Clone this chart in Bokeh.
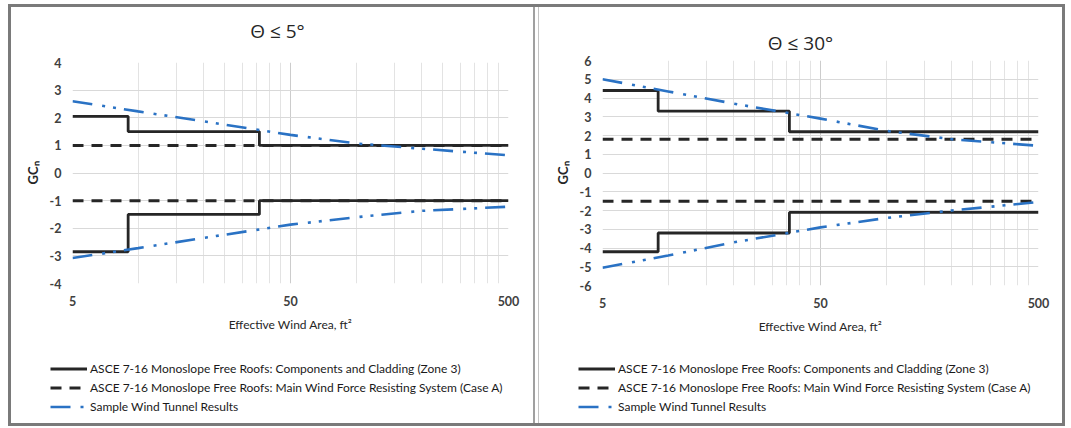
from bokeh.plotting import figure
from bokeh.models import (Range1d, FixedTicker, BasicTickFormatter, Legend,
                          LegendItem, Row, Column, Label)
from bokeh.embed import file_html
from bokeh.resources import INLINE

# ---------------- data ----------------
step_area = [5, 9, 36, 500]          # ft2 breakpoints of C&C steps
line_area = [5, 500]                 # extent of MWFRS lines
wt_area = [5, 10, 20, 50, 100, 200, 500]

x_major = [5, 50, 500]
x_minor = [10, 15, 20, 25, 30, 35, 40, 45, 100, 150, 200, 250, 300, 350, 400, 450]

left_title = "Θ ≤ 5°"
left_cc_pos = [2.05, 1.5, 1.0]
left_cc_neg = [-2.85, -1.5, -1.0]
left_mwfrs = [1.0, -1.0]
left_wt_pos = [2.6, 2.23, 1.87, 1.38, 1.07, 0.88, 0.64]
left_wt_neg = [-3.08, -2.72, -2.35, -1.87, -1.6, -1.37, -1.22]
left_yticks = [-4, -3, -2, -1, 0, 1, 2, 3, 4]

right_title = "Θ ≤ 30°"
right_cc_pos = [4.4, 3.3, 2.2]
right_cc_neg = [-4.2, -3.2, -2.1]
right_mwfrs = [1.8, -1.5]
right_wt_pos = [5.0, 4.35, 3.7, 2.9, 2.25, 1.8, 1.45]
right_wt_neg = [-5.05, -4.4, -3.7, -2.9, -2.4, -2.0, -1.55]
right_yticks = [-6, -5, -4, -3, -2, -1, 0, 1, 2, 3, 4, 5, 6]

legend_labels = [
    "ASCE 7-16 Monoslope Free Roofs: Components and Cladding (Zone 3)",
    "ASCE 7-16 Monoslope Free Roofs: Main Wind Force Resisting System (Case A)",
    "Sample Wind Tunnel Results",
]
x_label = "Effective Wind Area, ft²"
y_label = "GCₙ"

FONT = "Lato"
BLACK = "#262626"
BLUE = "#2a72c4"
CC_STYLE = dict(line_color=BLACK, line_width=2.8)
MW_STYLE = dict(line_color=BLACK, line_width=3, line_dash="11 8")
WT_STYLE = dict(line_color=BLUE, line_width=2.6, line_dash="20 10 3 8 3 8")
TOTAL_H = 416
LEGEND_H = 75
NAN2 = [float("nan"), float("nan")]   # legend-only proxies (draw nothing)


def blank_fig(width, height):
    f = figure(width=width, height=height, x_range=Range1d(0, width),
               y_range=Range1d(0, height), min_border=0,
               x_axis_location=None, y_axis_location=None,
               output_backend="svg", toolbar_location=None, frame_align=False)
    f.grid.visible = False
    f.outline_line_color = None
    f.background_fill_color = "white"
    f.border_fill_color = "white"
    return f


def make_panel(title, yticks, cc_pos, cc_neg, mwfrs, wt_pos, wt_neg,
               width, b_left, title_h, title_x, title_y, b_top, frame_h, leg_x):
    # ---- title strip ----
    pt = blank_fig(width, title_h)
    pt.add_layout(Label(x=title_x, y=title_y, text=title, text_align="center",
                        text_baseline="middle", text_font="Open Sans",
                        text_font_size="19px", text_color=BLACK))

    # ---- main chart ----
    main_h = TOTAL_H - title_h - LEGEND_H
    p = figure(width=width, height=main_h, x_axis_type="log",
               x_range=Range1d(5, 500), y_range=Range1d(yticks[0], yticks[-1]),
               min_border_left=b_left, min_border_right=width - b_left - 436,
               min_border_top=b_top, min_border_bottom=main_h - b_top - frame_h,
               output_backend="svg", toolbar_location=None, frame_align=False)
    p.outline_line_color = None
    p.background_fill_color = "white"
    p.border_fill_color = "white"

    p.xaxis.ticker = FixedTicker(ticks=x_major, minor_ticks=x_minor)
    p.xaxis.formatter = BasicTickFormatter()
    p.yaxis.ticker = FixedTicker(ticks=yticks)
    p.yaxis.major_label_overrides = {t: str(t) for t in yticks}
    for ax in (p.xaxis, p.yaxis):
        ax.axis_line_color = None
        ax.major_tick_line_color = None
        ax.minor_tick_line_color = None
        ax.major_label_text_font = FONT
        ax.major_label_text_font_size = "12.5px"
        ax.major_label_text_font_style = "bold"
        ax.major_label_text_color = "#404040"
    p.yaxis.major_label_standoff = 5
    p.xaxis.major_label_standoff = 6
    p.xaxis.axis_label = x_label
    p.xaxis.axis_label_text_font = FONT
    p.xaxis.axis_label_text_font_size = "12px"
    p.xaxis.axis_label_text_font_style = "normal"
    p.xaxis.axis_label_text_color = BLACK
    p.xaxis.axis_label_standoff = 8
    p.yaxis.axis_label = y_label
    p.yaxis.axis_label_text_font = FONT
    p.yaxis.axis_label_text_font_size = "13px"
    p.yaxis.axis_label_text_font_style = "bold"
    p.yaxis.axis_label_text_color = BLACK
    p.yaxis.axis_label_standoff = 6

    p.xgrid.grid_line_color = "#cccccc"
    p.xgrid.minor_grid_line_color = "#e3e3e3"
    p.ygrid.grid_line_color = "#d9d9d9"

    p.step(step_area, cc_pos + [cc_pos[-1]], mode="after", **CC_STYLE)
    p.step(step_area, cc_neg + [cc_neg[-1]], mode="after", **CC_STYLE)
    p.line(line_area, [mwfrs[0], mwfrs[0]], **MW_STYLE)
    p.line(line_area, [mwfrs[1], mwfrs[1]], **MW_STYLE)
    p.line(wt_area, wt_pos, **WT_STYLE)
    p.line(wt_area, wt_neg, **WT_STYLE)

    # ---- legend strip ----
    pl = blank_fig(width, LEGEND_H)
    k1 = pl.line(x=NAN2, y=NAN2, **CC_STYLE)
    k2 = pl.line(x=NAN2, y=NAN2, **MW_STYLE)
    k3 = pl.line(x=NAN2, y=NAN2, **WT_STYLE)
    legend = Legend(items=[LegendItem(label=legend_labels[0], renderers=[k1]),
                           LegendItem(label=legend_labels[1], renderers=[k2]),
                           LegendItem(label=legend_labels[2], renderers=[k3])],
                    location=(leg_x, 8), orientation="vertical",
                    glyph_width=37, glyph_height=17, label_height=17,
                    label_standoff=3, spacing=2, padding=0, margin=0,
                    border_line_color=None, background_fill_alpha=0,
                    label_text_font=FONT, label_text_font_size="12px",
                    label_text_color="#1a1a1a")
    pl.add_layout(legend)

    return Column(children=[pt, p, pl], spacing=0)


LEFT_W, GAP, RIGHT_W = 522, 6, 523

c1 = make_panel(left_title, left_yticks, left_cc_pos, left_cc_neg, left_mwfrs,
                left_wt_pos, left_wt_neg, width=LEFT_W, b_left=61,
                title_h=41, title_x=266, title_y=18, b_top=14, frame_h=221,
                leg_x=39)
c2 = make_panel(right_title, right_yticks, right_cc_pos, right_cc_neg, right_mwfrs,
                right_wt_pos, right_wt_neg, width=RIGHT_W, b_left=63,
                title_h=47, title_x=261, title_y=12, b_top=6, frame_h=225,
                leg_x=39)

divider_bg = ("linear-gradient(to right, transparent 522px, #a0a0a0 522px, "
              "#a0a0a0 524px, transparent 524px, transparent 527px, "
              "#c4c4c4 527px, #c4c4c4 528px, transparent 528px)")

layout = Row(children=[c1, c2], spacing=GAP, margin=(7, 0, 0, 11),
             width=LEFT_W + GAP + RIGHT_W, height=TOTAL_H, sizing_mode="fixed",
             styles={"outline": "3px solid #7a7a7a", "background-image": divider_bg})

open("out.html", "w").write(file_html(layout, INLINE))
